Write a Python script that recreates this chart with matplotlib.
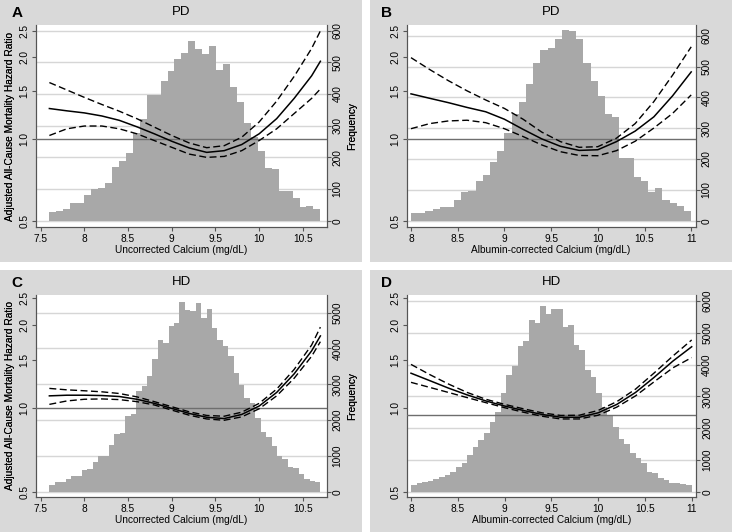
import numpy as np
import matplotlib
matplotlib.use("Agg")
import matplotlib.pyplot as plt
from matplotlib.patches import Rectangle
from matplotlib.ticker import FixedLocator, FixedFormatter, NullLocator

plt.rcParams['font.family'] = ['Liberation Sans', 'DejaVu Sans']

# ---------------- data ----------------
# Panel A: PD, uncorrected calcium
a_hist_range = (7.6, 10.7)
a_hist_counts = [29, 31, 36, 57, 57, 82, 99, 102, 118, 170,
                 189, 213, 276, 322, 396, 396, 442, 473, 509, 528,
                 568, 542, 525, 552, 476, 495, 421, 374, 307, 265,
                 221, 165, 162, 95, 95, 71, 44, 46, 36]
a_x = [7.6, 7.8, 8.0, 8.2, 8.4, 8.6, 8.8, 9.0, 9.2, 9.4, 9.6, 9.8, 10.0, 10.2, 10.4, 10.6, 10.7]
a_hr = [1.293, 1.268, 1.246, 1.214, 1.170, 1.108, 1.044, 0.980, 0.926, 0.892, 0.905, 0.953, 1.044, 1.187, 1.409, 1.706, 1.929]
a_hr_hi = [1.611, 1.513, 1.421, 1.338, 1.264, 1.187, 1.105, 1.029, 0.966, 0.928, 0.944, 1.014, 1.154, 1.377, 1.697, 2.151, 2.495]
a_hr_lo = [1.029, 1.089, 1.115, 1.115, 1.089, 1.044, 0.986, 0.931, 0.879, 0.855, 0.862, 0.905, 0.986, 1.089, 1.239, 1.409, 1.526]

# Panel B: PD, albumin-corrected calcium
b_hist_range = (8.0, 11.0)
b_hist_counts = [24, 26, 30, 37, 45, 43, 67, 93, 95, 128,
                 148, 191, 225, 283, 345, 386, 442, 510, 553, 561,
                 590, 620, 614, 588, 512, 453, 406, 346, 335, 202,
                 202, 141, 130, 94, 105, 67, 56, 48, 32]
b_x = [8.0, 8.2, 8.4, 8.6, 8.8, 9.0, 9.2, 9.4, 9.6, 9.8, 10.0, 10.2, 10.4, 10.6, 10.8, 11.0]
b_hr = [1.464, 1.410, 1.359, 1.305, 1.258, 1.181, 1.084, 1.000, 0.939, 0.907, 0.912, 0.977, 1.068, 1.205, 1.439, 1.763]
b_hr_hi = [1.989, 1.799, 1.637, 1.502, 1.390, 1.294, 1.181, 1.059, 0.977, 0.931, 0.936, 1.006, 1.138, 1.371, 1.714, 2.180]
b_hr_lo = [1.090, 1.138, 1.164, 1.171, 1.147, 1.090, 1.020, 0.950, 0.897, 0.869, 0.867, 0.905, 0.980, 1.096, 1.240, 1.451]

# Panel C: HD, uncorrected calcium
c_hist_range = (7.6, 10.7)
c_hist_counts = [183, 266, 266, 349, 440, 440, 596, 640, 844, 991,
                 991, 1312, 1606, 1633, 2110, 2183, 2798, 2963, 3239, 3716,
                 4248, 4156, 4615, 4697, 5300, 5075, 5055, 5280, 4845, 5100,
                 4580, 4240, 4070, 3790, 3305, 2980, 2610, 2470, 2050, 1675,
                 1535, 1275, 995, 905, 680, 650, 495, 345, 310, 280]
c_x = [7.6, 7.8, 8.0, 8.2, 8.4, 8.6, 8.8, 9.0, 9.2, 9.4, 9.6, 9.8, 10.0, 10.2, 10.4, 10.6, 10.7]
c_hr = [1.110, 1.116, 1.116, 1.113, 1.104, 1.079, 1.043, 1.000, 0.959, 0.929, 0.919, 0.951, 1.020, 1.142, 1.333, 1.614, 1.827]
c_hr_hi = [1.181, 1.167, 1.158, 1.148, 1.132, 1.101, 1.058, 1.014, 0.972, 0.943, 0.937, 0.969, 1.043, 1.174, 1.383, 1.694, 1.966]
c_hr_lo = [1.034, 1.064, 1.079, 1.082, 1.076, 1.058, 1.029, 0.986, 0.945, 0.916, 0.906, 0.932, 0.997, 1.110, 1.285, 1.543, 1.742]

# Panel D: HD, albumin-corrected calcium
d_hist_range = (8.0, 11.0)
d_hist_counts = [210, 262, 315, 346, 388, 451, 525, 630, 766, 892,
                 1154, 1396, 1626, 1836, 2204, 2518, 3095, 3673, 3956, 4586,
                 4753, 5404, 5320, 5845, 5593, 5740, 5740, 5173, 5247, 4617,
                 4460, 3830, 3599, 3095, 2676, 2414, 2046, 1647, 1500, 1207,
                 1049, 913, 630, 577, 420, 367, 283, 262, 241, 210]
d_x = [8.0, 8.2, 8.4, 8.6, 8.8, 9.0, 9.2, 9.4, 9.6, 9.8, 10.0, 10.2, 10.4, 10.6, 10.8, 11.0]
d_hr = [1.340, 1.260, 1.184, 1.119, 1.064, 1.020, 0.983, 0.951, 0.929, 0.929, 0.964, 1.034, 1.142, 1.296, 1.483, 1.670]
d_hr_hi = [1.442, 1.325, 1.225, 1.142, 1.079, 1.034, 0.997, 0.964, 0.943, 0.945, 0.983, 1.058, 1.174, 1.344, 1.547, 1.767]
d_hr_lo = [1.242, 1.191, 1.142, 1.094, 1.049, 1.006, 0.969, 0.937, 0.916, 0.916, 0.945, 1.011, 1.110, 1.249, 1.402, 1.526]

hr_ticks = [0.5, 1.0, 1.5, 2.0, 2.5]
hr_tick_labels = ["0.5", "1.0", "1.5", "2.0", "2.5"]
pd_freq_ticks = [0, 100, 200, 300, 400, 500, 600]
hd_freq_ticks_c = [0, 1000, 2000, 3000, 4000, 5000]
hd_freq_ticks_d = [0, 1000, 2000, 3000, 4000, 5000, 6000]
uncorr_ticks = [7.5, 8, 8.5, 9, 9.5, 10, 10.5]
corr_ticks = [8, 8.5, 9, 9.5, 10, 10.5, 11]

panels = [
    dict(letter="A", title="PD", xlabel="Uncorrected Calcium (mg/dL)",
         hist_range=a_hist_range, counts=a_hist_counts, x=a_x, hr=a_hr, hi=a_hr_hi, lo=a_hr_lo,
         xticks=uncorr_ticks, fticks=pd_freq_ticks, ref=1.0),
    dict(letter="B", title="PD", xlabel="Albumin-corrected Calcium (mg/dL)",
         hist_range=b_hist_range, counts=b_hist_counts, x=b_x, hr=b_hr, hi=b_hr_hi, lo=b_hr_lo,
         xticks=corr_ticks, fticks=pd_freq_ticks, ref=1.0),
    dict(letter="C", title="HD", xlabel="Uncorrected Calcium (mg/dL)",
         hist_range=c_hist_range, counts=c_hist_counts, x=c_x, hr=c_hr, hi=c_hr_hi, lo=c_hr_lo,
         xticks=uncorr_ticks, fticks=hd_freq_ticks_c, ref=1.0),
    dict(letter="D", title="HD", xlabel="Albumin-corrected Calcium (mg/dL)",
         hist_range=d_hist_range, counts=d_hist_counts, x=d_x, hr=d_hr, hi=d_hr_hi, lo=d_hr_lo,
         xticks=corr_ticks, fticks=hd_freq_ticks_d, ref=0.95),
]

# ---------------- layout (pixels) ----------------
W, H = 732, 532
layout = [
    dict(box=(36, 326.5, 25, 227), bg=(0, 362, 0, 262), xlim=(7.447, 10.77),
         fb=0.031, ft=0.972, fr=0.972),
    dict(box=(406.7, 695.5, 25, 227), bg=(370, 732, 0, 262), xlim=(7.954, 11.046),
         fb=0.031, ft=0.972, fr=0.947),
    dict(box=(36, 326.5, 295, 497), bg=(0, 362, 270, 532), xlim=(7.447, 10.77),
         fb=0.026, ft=0.984, fr=0.913),
    dict(box=(406.7, 696, 295, 497), bg=(370, 732, 270, 532), xlim=(7.954, 11.046),
         fb=0.026, ft=0.984, fr=0.970),
]

BG = "#d9d9d9"
BAR = "#a8a8a8"
GRID = "#d6d6d6"
AXC = "#555555"

fig = plt.figure(figsize=(W / 100, H / 100), dpi=100)
fig.patch.set_facecolor("white")

for p, lay in zip(panels, layout):
    x0, x1, y0, y1 = lay["bg"]
    fig.patches.append(Rectangle((x0 / W, 1 - y1 / H), (x1 - x0) / W, (y1 - y0) / H,
                                 transform=fig.transFigure, facecolor=BG,
                                 edgecolor="none", zorder=-10))
    l, r, t, b = lay["box"]
    ax2 = fig.add_axes([l / W, 1 - b / H, (r - l) / W, (b - t) / H])
    ax = ax2.twinx()
    ax.yaxis.tick_left(); ax.yaxis.set_label_position("left")
    ax2.yaxis.tick_right(); ax2.yaxis.set_label_position("right")
    ax2.set_facecolor("white")
    ax.patch.set_visible(False)

    # histogram (right axis)
    n = len(p["counts"])
    edges = np.linspace(p["hist_range"][0], p["hist_range"][1], n + 1)
    ax2.bar(edges[:-1], p["counts"], width=np.diff(edges), align="edge",
            color=BAR, edgecolor="none", zorder=2)
    ft_top = p["fticks"][-1]
    fb, fr = lay["fb"], lay["fr"]
    span = ft_top / (fr - fb)
    ax2.set_ylim(-fb * span, ft_top + (1 - fr) * span)
    ax2.yaxis.set_major_locator(FixedLocator(p["fticks"]))
    ax2.yaxis.grid(True, color=GRID, lw=1.0)
    ax2.set_axisbelow(True)
    ax2.set_ylabel("Frequency", fontsize=7.3, labelpad=2)
    ax2.yaxis.set_label_coords((347 - l) / (r - l), 0.5)
    for lab in ax2.get_yticklabels():
        lab.set_rotation(90)
        lab.set_va("center")
    ax2.tick_params(axis="y", which="both", direction="out", length=3, pad=1.5,
                    labelsize=7.3, color=AXC, labelright=True, labelleft=False,
                    right=True, left=False)

    # hazard ratio curves (left, log axis)
    ax.set_yscale("log")
    lnlo, lnhi = np.log(0.5), np.log(2.5)
    L = (lnhi - lnlo) / (lay["ft"] - fb)
    ax.set_ylim(np.exp(lnlo - fb * L), np.exp(lnhi + (1 - lay["ft"]) * L))
    ax.yaxis.set_major_locator(FixedLocator(hr_ticks))
    ax.yaxis.set_major_formatter(FixedFormatter(hr_tick_labels))
    ax.yaxis.set_minor_locator(NullLocator())
    ax.axhline(p["ref"], color="#6e6e6e", lw=1.0, zorder=3)
    ax.plot(p["x"], p["hr"], color="black", lw=1.1, zorder=5)
    ax.plot(p["x"], p["hi"], color="black", lw=1.0, ls=(0, (5, 2.5)), zorder=5)
    ax.plot(p["x"], p["lo"], color="black", lw=1.0, ls=(0, (5, 2.5)), zorder=5)
    ax.set_ylabel("Adjusted All-Cause Mortality Hazard Ratio", fontsize=7.3)
    ax.yaxis.set_label_coords((15 - l) / (r - l), 0.5)
    ax.tick_params(axis="y", which="both", direction="out", length=3, pad=1.5,
                   labelsize=7.3, color=AXC, labelleft=True, labelright=False,
                   left=True, right=False)
    for lab in ax.get_yticklabels():
        lab.set_rotation(90)
        lab.set_va("center")

    ax2.set_xlim(*lay["xlim"])
    ax2.set_xticks(p["xticks"])
    ax2.set_xticklabels(["%g" % v for v in p["xticks"]])
    ax2.tick_params(axis="x", direction="out", length=3, pad=2, labelsize=7.3, color=AXC)
    ax2.set_xlabel(p["xlabel"], fontsize=7.3, labelpad=1)

    for a in (ax, ax2):
        a.spines["top"].set_visible(False)
        for s in ("left", "right", "bottom"):
            a.spines[s].set_color(AXC)
            a.spines[s].set_linewidth(0.8)

    fig.text((l + r) / 2 / W, 1 - (t - 13) / H, p["title"], ha="center", va="center", fontsize=9.5)
    fig.text((x0 + 17) / W, 1 - (y0 + 13) / H, p["letter"], ha="center", va="center",
             fontsize=11, fontweight="bold")

fig.savefig("out.png", dpi=100)
